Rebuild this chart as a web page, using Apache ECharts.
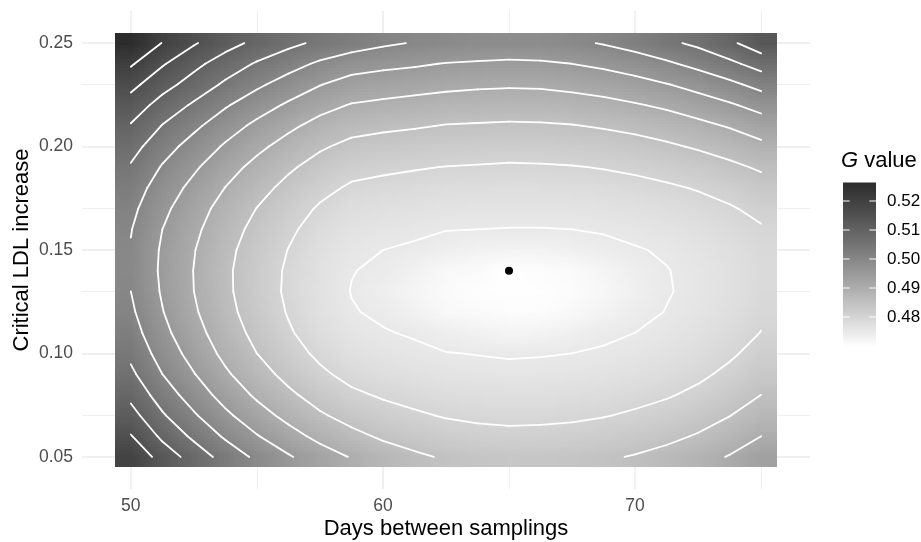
<!DOCTYPE html>
<html>
<head>
<meta charset="utf-8">
<script src="https://cdn.jsdelivr.net/npm/echarts@6/dist/echarts.min.js"></script>
<style>
  html, body { margin: 0; padding: 0; background: #fff; }
  #chart { width: 921px; height: 542px; }
</style>
</head>
<body>
<div id="chart"></div>
<script>
// raster grid: days between samplings (columns) and critical LDL increase (rows)
const days = [50, 51.25, 52.5, 53.75, 55, 56.25, 57.5, 58.75, 60, 61.25, 62.5,
  63.75, 65, 66.25, 67.5, 68.75, 70, 71.25, 72.5, 73.75, 75];
const ldlIncrease = [0.05, 0.06, 0.07, 0.08, 0.09, 0.10, 0.11, 0.12, 0.13, 0.14, 0.15,
  0.16, 0.17, 0.18, 0.19, 0.20, 0.21, 0.22, 0.23, 0.24, 0.25];

// G value, one row per ldlIncrease value (0.05 first), one column per day
const gValues = [
  [0.5193, 0.5129, 0.5079, 0.5031, 0.4990, 0.4955, 0.4923, 0.4897, 0.4874, 0.4858, 0.4845, 0.4838, 0.4834, 0.4835, 0.4838, 0.4844, 0.4853, 0.4865, 0.4882, 0.4903, 0.4931],
  [0.5153, 0.5090, 0.5040, 0.4993, 0.4953, 0.4918, 0.4887, 0.4863, 0.4843, 0.4830, 0.4819, 0.4813, 0.4810, 0.4811, 0.4814, 0.4820, 0.4828, 0.4839, 0.4854, 0.4874, 0.4900],
  [0.5118, 0.5056, 0.5006, 0.4960, 0.4920, 0.4886, 0.4856, 0.4833, 0.4817, 0.4806, 0.4797, 0.4792, 0.4790, 0.4791, 0.4793, 0.4798, 0.4806, 0.4816, 0.4830, 0.4849, 0.4873],
  [0.5087, 0.5026, 0.4977, 0.4931, 0.4892, 0.4859, 0.4830, 0.4808, 0.4795, 0.4786, 0.4778, 0.4775, 0.4773, 0.4773, 0.4776, 0.4780, 0.4787, 0.4796, 0.4809, 0.4827, 0.4850],
  [0.5060, 0.5000, 0.4952, 0.4907, 0.4869, 0.4836, 0.4808, 0.4787, 0.4776, 0.4769, 0.4763, 0.4760, 0.4758, 0.4759, 0.4761, 0.4765, 0.4771, 0.4780, 0.4792, 0.4809, 0.4830],
  [0.5039, 0.4979, 0.4932, 0.4888, 0.4850, 0.4818, 0.4791, 0.4771, 0.4762, 0.4756, 0.4751, 0.4749, 0.4747, 0.4748, 0.4750, 0.4753, 0.4759, 0.4767, 0.4778, 0.4794, 0.4814],
  [0.5021, 0.4963, 0.4917, 0.4874, 0.4837, 0.4805, 0.4778, 0.4759, 0.4752, 0.4747, 0.4737, 0.4729, 0.4721, 0.4725, 0.4733, 0.4745, 0.4750, 0.4757, 0.4768, 0.4782, 0.4801],
  [0.5008, 0.4952, 0.4906, 0.4864, 0.4828, 0.4797, 0.4770, 0.4752, 0.4745, 0.4729, 0.4712, 0.4708, 0.4704, 0.4704, 0.4712, 0.4725, 0.4741, 0.4751, 0.4761, 0.4774, 0.4792],
  [0.5000, 0.4945, 0.4900, 0.4859, 0.4823, 0.4793, 0.4767, 0.4749, 0.4737, 0.4721, 0.4708, 0.4700, 0.4698, 0.4699, 0.4704, 0.4716, 0.4733, 0.4748, 0.4757, 0.4770, 0.4787],
  [0.4996, 0.4942, 0.4899, 0.4858, 0.4824, 0.4794, 0.4768, 0.4751, 0.4745, 0.4729, 0.4712, 0.4708, 0.4696, 0.4704, 0.4708, 0.4721, 0.4737, 0.4749, 0.4757, 0.4769, 0.4785],
  [0.4997, 0.4944, 0.4902, 0.4862, 0.4828, 0.4799, 0.4773, 0.4756, 0.4750, 0.4746, 0.4737, 0.4729, 0.4725, 0.4725, 0.4733, 0.4741, 0.4748, 0.4753, 0.4762, 0.4773, 0.4788],
  [0.5002, 0.4950, 0.4910, 0.4870, 0.4837, 0.4808, 0.4782, 0.4765, 0.4759, 0.4755, 0.4751, 0.4750, 0.4749, 0.4749, 0.4750, 0.4753, 0.4757, 0.4763, 0.4771, 0.4782, 0.4796],
  [0.5012, 0.4961, 0.4921, 0.4882, 0.4849, 0.4820, 0.4795, 0.4777, 0.4772, 0.4768, 0.4764, 0.4762, 0.4761, 0.4761, 0.4763, 0.4766, 0.4770, 0.4776, 0.4785, 0.4796, 0.4811],
  [0.5026, 0.4976, 0.4937, 0.4899, 0.4866, 0.4837, 0.4812, 0.4794, 0.4788, 0.4784, 0.4779, 0.4778, 0.4776, 0.4777, 0.4779, 0.4782, 0.4787, 0.4794, 0.4803, 0.4815, 0.4831],
  [0.5045, 0.4996, 0.4957, 0.4919, 0.4886, 0.4857, 0.4832, 0.4814, 0.4808, 0.4803, 0.4799, 0.4797, 0.4795, 0.4796, 0.4798, 0.4802, 0.4808, 0.4816, 0.4826, 0.4840, 0.4856],
  [0.5068, 0.5020, 0.4981, 0.4944, 0.4911, 0.4882, 0.4856, 0.4838, 0.4831, 0.4827, 0.4822, 0.4820, 0.4818, 0.4819, 0.4822, 0.4826, 0.4833, 0.4843, 0.4855, 0.4869, 0.4888],
  [0.5096, 0.5048, 0.5010, 0.4972, 0.4939, 0.4910, 0.4884, 0.4866, 0.4859, 0.4854, 0.4848, 0.4846, 0.4844, 0.4845, 0.4848, 0.4854, 0.4862, 0.4873, 0.4887, 0.4904, 0.4925],
  [0.5128, 0.5081, 0.5043, 0.5005, 0.4972, 0.4943, 0.4916, 0.4897, 0.4890, 0.4884, 0.4878, 0.4875, 0.4873, 0.4874, 0.4879, 0.4886, 0.4896, 0.4908, 0.4925, 0.4944, 0.4967],
  [0.5164, 0.5118, 0.5080, 0.5042, 0.5009, 0.4979, 0.4952, 0.4932, 0.4924, 0.4918, 0.4912, 0.4908, 0.4906, 0.4907, 0.4913, 0.4921, 0.4933, 0.4948, 0.4967, 0.4989, 0.5016],
  [0.5206, 0.5155, 0.5113, 0.5077, 0.5045, 0.5019, 0.4992, 0.4971, 0.4962, 0.4956, 0.4948, 0.4945, 0.4942, 0.4944, 0.4950, 0.4960, 0.4974, 0.4992, 0.5014, 0.5039, 0.5070],
  [0.5264, 0.5198, 0.5155, 0.5118, 0.5088, 0.5062, 0.5040, 0.5024, 0.5008, 0.4997, 0.4990, 0.4985, 0.4982, 0.4984, 0.4991, 0.5003, 0.5019, 0.5040, 0.5060, 0.5090, 0.5130]
];

// point marking the optimum
const optimum = [65, 0.14];

const contourLevels = [0.475, 0.48, 0.485, 0.49, 0.495, 0.50, 0.505, 0.51, 0.515, 0.52];
const xTicks = [50, 60, 70];
const xMinorTicks = [55, 65, 75];
const yTicks = [0.05, 0.10, 0.15, 0.20, 0.25];
const yMinorTicks = [0.075, 0.125, 0.175, 0.225];
const legendTicks = [0.48, 0.49, 0.50, 0.51, 0.52];

const FONT = '"Liberation Sans", Arial, Helvetica, sans-serif';
const nx = days.length;
const ny = ldlIncrease.length;
const halfX = (days[1] - days[0]) / 2;
const halfY = (ldlIncrease[1] - ldlIncrease[0]) / 2;

const allG = gValues.flat();
const gMin = Math.min(...allG);
const gMax = Math.max(...allG);

// panel = raster extent plus 5% each side (ggplot default expansion)
const rasterX = [days[0] - halfX, days[nx - 1] + halfX];
const rasterY = [ldlIncrease[0] - halfY, ldlIncrease[ny - 1] + halfY];
const padX = (rasterX[1] - rasterX[0]) * 0.05;
const padY = (rasterY[1] - rasterY[0]) * 0.05;

// white -> dark grey, interpolated on CIE L*
const L_HIGH = 18;
function grey(g) {
  let t = (g - gMin) / (gMax - gMin);
  t = Math.max(0, Math.min(1, t));
  const L = 100 + t * (L_HIGH - 100);
  const f = (L + 16) / 116;
  const Y = L > 8 ? f * f * f : L / 903.3;
  const c = Y <= 0.0031308 ? 12.92 * Y : 1.055 * Math.pow(Y, 1 / 2.4) - 0.055;
  const v = Math.round(Math.max(0, Math.min(1, c)) * 255);
  return 'rgb(' + v + ',' + v + ',' + v + ')';
}

// bilinear value between cell centres (like an interpolated raster)
function sample(fi, fj) {
  fi = Math.max(0, Math.min(nx - 1, fi));
  fj = Math.max(0, Math.min(ny - 1, fj));
  const i0 = Math.min(nx - 2, Math.floor(fi));
  const j0 = Math.min(ny - 2, Math.floor(fj));
  const u = fi - i0;
  const v = fj - j0;
  const bottom = gValues[j0][i0] * (1 - u) + gValues[j0][i0 + 1] * u;
  const top = gValues[j0 + 1][i0] * (1 - u) + gValues[j0 + 1][i0 + 1] * u;
  return bottom * (1 - v) + top * v;
}

const cellData = [];
for (let j = 0; j < ny; j++) {
  for (let i = 0; i < nx; i++) {
    cellData.push([days[i], ldlIncrease[j], gValues[j][i], i, j]);
  }
}
const squareData = [];
for (let j = 0; j < ny - 1; j++) {
  for (let i = 0; i < nx - 1; i++) {
    squareData.push([days[i], ldlIncrease[j], i, j]);
  }
}

function renderCell(params, api) {
  const x = api.value(0);
  const y = api.value(1);
  const i = api.value(3);
  const j = api.value(4);
  const tl = api.coord([x - halfX, y + halfY]);
  const br = api.coord([x + halfX, y - halfY]);
  const w = br[0] - tl[0];
  const h = br[1] - tl[1];
  const sx = Math.ceil(w / 3);
  const sy = Math.ceil(h / 3);
  const children = [];
  for (let a = 0; a < sx; a++) {
    const x0 = Math.round(tl[0] + w * a / sx);
    const x1 = Math.round(tl[0] + w * (a + 1) / sx);
    const fi = i - 0.5 + (a + 0.5) / sx;
    for (let b = 0; b < sy; b++) {
      const y0 = Math.round(tl[1] + h * b / sy);
      const y1 = Math.round(tl[1] + h * (b + 1) / sy);
      const fj = j + 0.5 - (b + 0.5) / sy;
      children.push({
        type: 'rect',
        shape: { x: x0, y: y0, width: x1 - x0, height: y1 - y0 },
        style: { fill: grey(sample(fi, fj)) }
      });
    }
  }
  return { type: 'group', silent: true, children: children };
}

// isolines inside one square of four neighbouring grid points
function renderContour(params, api) {
  const i = api.value(2);
  const j = api.value(3);
  const corners = [
    [days[i], ldlIncrease[j], gValues[j][i]],
    [days[i + 1], ldlIncrease[j], gValues[j][i + 1]],
    [days[i + 1], ldlIncrease[j + 1], gValues[j + 1][i + 1]],
    [days[i], ldlIncrease[j + 1], gValues[j + 1][i]]
  ];
  const centre = (corners[0][2] + corners[1][2] + corners[2][2] + corners[3][2]) / 4;
  const children = [];
  contourLevels.forEach(function (level) {
    const pts = [];
    for (let e = 0; e < 4; e++) {
      const a = corners[e];
      const b = corners[(e + 1) % 4];
      if ((a[2] >= level) !== (b[2] >= level)) {
        const t = (level - a[2]) / (b[2] - a[2]);
        pts.push(api.coord([a[0] + t * (b[0] - a[0]), a[1] + t * (b[1] - a[1])]));
      } else {
        pts.push(null);
      }
    }
    const found = pts.filter(function (p) { return p; });
    let pairs = [];
    if (found.length === 2) {
      pairs = [[found[0], found[1]]];
    } else if (found.length === 4) {
      if ((centre >= level) === (corners[0][2] >= level)) {
        pairs = [[pts[0], pts[1]], [pts[2], pts[3]]];
      } else {
        pairs = [[pts[3], pts[0]], [pts[1], pts[2]]];
      }
    }
    pairs.forEach(function (p) {
      children.push({
        type: 'line',
        shape: { x1: p[0][0], y1: p[0][1], x2: p[1][0], y2: p[1][1] },
        style: { stroke: '#ffffff', lineWidth: 1.8, lineCap: 'round' }
      });
    });
  });
  return { type: 'group', silent: true, children: children };
}

function renderLegendBar(params, api) {
  const top = api.coord([0, gMax]);
  const bottom = api.coord([1, gMin]);
  const stops = [];
  for (let k = 0; k <= 24; k++) {
    stops.push({ offset: k / 24, color: grey(gMax - (gMax - gMin) * k / 24) });
  }
  return {
    type: 'rect',
    shape: { x: top[0], y: top[1], width: bottom[0] - top[0], height: bottom[1] - top[1] },
    style: { fill: { type: 'linear', x: 0, y: 0, x2: 0, y2: 1, colorStops: stops } }
  };
}

function renderLegendTick(params, api) {
  const left = api.coord([0, api.value(1)]);
  const right = api.coord([1, api.value(1)]);
  const len = (right[0] - left[0]) / 5;
  const style = { stroke: '#ffffff', lineWidth: 1 };
  return {
    type: 'group',
    children: [
      { type: 'line', shape: { x1: left[0], y1: left[1], x2: left[0] + len, y2: left[1] }, style: style },
      { type: 'line', shape: { x1: right[0] - len, y1: right[1], x2: right[0], y2: right[1] }, style: style }
    ]
  };
}

// legend bar scale: 0.52 at y=201, 0.48 at y=317
const legendPxPerUnit = 2900;
const legendTop = 201 - (gMax - 0.52) * legendPxPerUnit;
const legendHeight = (gMax - gMin) * legendPxPerUnit;

const gridLines = []
  .concat(xTicks.map(v => ({ xAxis: v, lineStyle: { width: 1.5 } })))
  .concat(xMinorTicks.map(v => ({ xAxis: v, lineStyle: { width: 0.8 } })))
  .concat(yTicks.map(v => ({ yAxis: v, lineStyle: { width: 1.5 } })))
  .concat(yMinorTicks.map(v => ({ yAxis: v, lineStyle: { width: 0.8 } })));

const chart = echarts.init(document.getElementById('chart'));

const option = {
  animation: false,
  backgroundColor: '#ffffff',
  textStyle: { fontFamily: FONT },
  title: {
    text: '{i|G} value',
    left: 841,
    top: 150,
    padding: 0,
    textStyle: {
      fontFamily: FONT,
      fontSize: 22,
      fontWeight: 'normal',
      color: '#000',
      rich: { i: { fontFamily: FONT, fontSize: 22, fontStyle: 'italic', color: '#000' } }
    }
  },
  grid: [
    { left: 82, top: 11, width: 728, height: 478, outerBoundsMode: 'none' },
    { left: 843, top: legendTop, width: 33, height: legendHeight, outerBoundsMode: 'none' }
  ],
  xAxis: [
    {
      gridIndex: 0,
      type: 'value',
      min: rasterX[0] - padX,
      max: rasterX[1] + padX,
      axisLine: { show: false },
      axisTick: { show: false },
      splitLine: { show: false },
      axisLabel: { customValues: xTicks, color: '#4d4d4d', fontSize: 17.5, margin: 8, fontFamily: FONT },
      name: 'Days between samplings',
      nameLocation: 'middle',
      nameGap: 29,
      nameMoveOverlap: false,
      nameTextStyle: { color: '#000', fontSize: 22, fontFamily: FONT }
    },
    { gridIndex: 1, type: 'value', min: 0, max: 1, show: false }
  ],
  yAxis: [
    {
      gridIndex: 0,
      type: 'value',
      min: rasterY[0] - padY,
      max: rasterY[1] + padY,
      axisLine: { show: false },
      axisTick: { show: false },
      splitLine: { show: false },
      axisLabel: {
        customValues: yTicks, color: '#4d4d4d', fontSize: 17.5, margin: 9, fontFamily: FONT,
        formatter: v => v.toFixed(2)
      },
      name: 'Critical LDL increase',
      nameLocation: 'middle',
      nameRotate: 90,
      nameGap: 49,
      nameMoveOverlap: false,
      nameTextStyle: { color: '#000', fontSize: 22, fontFamily: FONT }
    },
    {
      gridIndex: 1,
      type: 'value',
      position: 'right',
      min: gMin,
      max: gMax,
      axisLine: { show: false },
      axisTick: { show: false },
      splitLine: { show: false },
      axisLabel: {
        customValues: legendTicks, color: '#000', fontSize: 17, margin: 11, fontFamily: FONT,
        formatter: v => v.toFixed(2)
      }
    }
  ],
  series: [
    {
      name: 'G value',
      type: 'custom',
      xAxisIndex: 0,
      yAxisIndex: 0,
      z: 2,
      renderItem: renderCell,
      encode: { x: 0, y: 1 },
      data: cellData
    },
    {
      name: 'contours',
      type: 'custom',
      xAxisIndex: 0,
      yAxisIndex: 0,
      z: 3,
      renderItem: renderContour,
      encode: { x: 0, y: 1 },
      data: squareData
    },
    {
      name: 'optimum',
      type: 'scatter',
      xAxisIndex: 0,
      yAxisIndex: 0,
      z: 4,
      symbolSize: 8,
      itemStyle: { color: '#000', opacity: 1 },
      data: [optimum],
      markLine: {
        silent: true,
        z: 1,
        symbol: 'none',
        label: { show: false },
        lineStyle: { color: '#ebebeb', type: 'solid' },
        emphasis: { disabled: true },
        data: gridLines
      }
    },
    {
      type: 'custom',
      xAxisIndex: 1,
      yAxisIndex: 1,
      z: 2,
      renderItem: renderLegendBar,
      data: [[0, gMin]]
    },
    {
      type: 'custom',
      xAxisIndex: 1,
      yAxisIndex: 1,
      z: 3,
      renderItem: renderLegendTick,
      data: legendTicks.map(v => [0, v])
    }
  ]
};

chart.setOption(option);
</script>
</body>
</html>
